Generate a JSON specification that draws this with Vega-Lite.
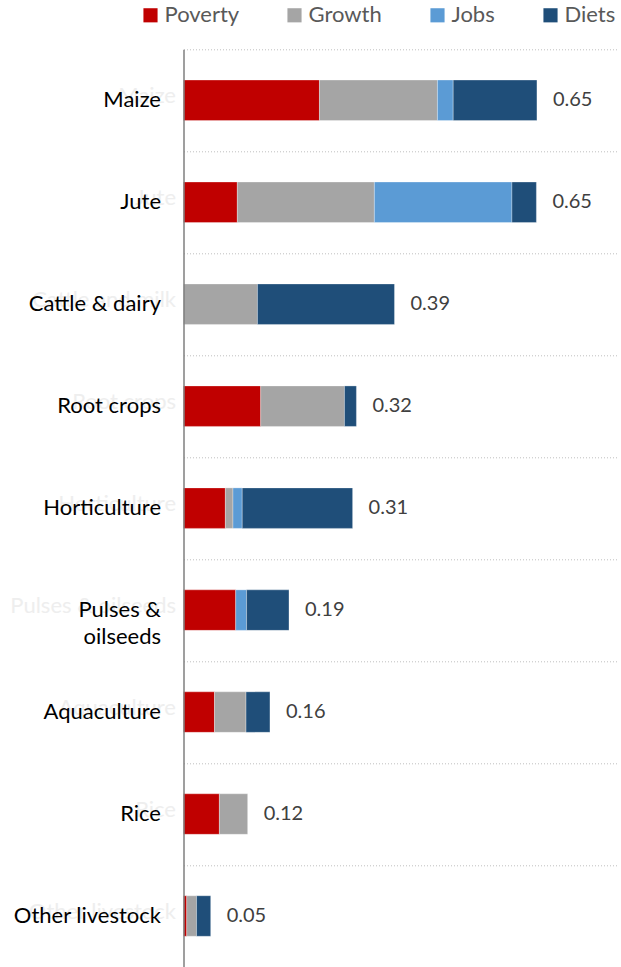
{
  "$schema": "https://vega.github.io/schema/vega-lite/v6.json",
  "width": 435,
  "height": 917.7,
  "autosize": {"type": "none"},
  "padding": {"left": 183.5, "top": 49.3, "right": 0, "bottom": 0},
  "background": "white",
  "config": {"view": {"stroke": null}, "font": "Lato"},
  "data": {
    "values": [
      {"sector": "Maize", "measure": "Poverty", "value": 0.250},
      {"sector": "Maize", "measure": "Growth", "value": 0.217},
      {"sector": "Maize", "measure": "Jobs", "value": 0.029},
      {"sector": "Maize", "measure": "Diets", "value": 0.154},
      {"sector": "Jute", "measure": "Poverty", "value": 0.099},
      {"sector": "Jute", "measure": "Growth", "value": 0.252},
      {"sector": "Jute", "measure": "Jobs", "value": 0.253},
      {"sector": "Jute", "measure": "Diets", "value": 0.045},
      {"sector": "Cattle & dairy", "measure": "Growth", "value": 0.136},
      {"sector": "Cattle & dairy", "measure": "Diets", "value": 0.252},
      {"sector": "Root crops", "measure": "Poverty", "value": 0.142},
      {"sector": "Root crops", "measure": "Growth", "value": 0.154},
      {"sector": "Root crops", "measure": "Diets", "value": 0.022},
      {"sector": "Horticulture", "measure": "Poverty", "value": 0.077},
      {"sector": "Horticulture", "measure": "Growth", "value": 0.014},
      {"sector": "Horticulture", "measure": "Jobs", "value": 0.017},
      {"sector": "Horticulture", "measure": "Diets", "value": 0.203},
      {"sector": "Pulses & oilseeds", "measure": "Poverty", "value": 0.096},
      {"sector": "Pulses & oilseeds", "measure": "Jobs", "value": 0.020},
      {"sector": "Pulses & oilseeds", "measure": "Diets", "value": 0.078},
      {"sector": "Aquaculture", "measure": "Poverty", "value": 0.057},
      {"sector": "Aquaculture", "measure": "Growth", "value": 0.058},
      {"sector": "Aquaculture", "measure": "Diets", "value": 0.044},
      {"sector": "Rice", "measure": "Poverty", "value": 0.066},
      {"sector": "Rice", "measure": "Growth", "value": 0.052},
      {"sector": "Other livestock", "measure": "Poverty", "value": 0.006},
      {"sector": "Other livestock", "measure": "Growth", "value": 0.018},
      {"sector": "Other livestock", "measure": "Diets", "value": 0.026}
    ]
  },
  "layer": [
    {
      "transform": [
        {"calculate": "indexof(['Poverty', 'Growth', 'Jobs', 'Diets'], datum.measure)", "as": "stack_rank"}
      ],
      "mark": {"type": "bar", "size": 40.5, "stroke": "white", "strokeWidth": 0.6, "strokeOpacity": 0.5},
      "encoding": {
        "y": {
          "field": "sector",
          "type": "nominal",
          "scale": {
            "domain": ["Maize", "Jute", "Cattle & dairy", "Root crops", "Horticulture", "Pulses & oilseeds", "Aquaculture", "Rice", "Other livestock"],
            "paddingInner": 0,
            "paddingOuter": 0
          },
          "axis": {
            "orient": "left",
            "title": null,
            "domain": false,
            "ticks": false,
            "labelFontSize": 22,
            "labelColor": "#eeeeee",
            "labelPadding": 8,
            "labelOffset": -5,
            "labelLimit": 400,
            "labelExpr": "datum.value == 'Cattle & dairy' ? 'Cattle and milk' : datum.value",
            "grid": true,
            "gridDash": [1, 2],
            "gridColor": "#bfbfbf",
            "gridWidth": 1,
            "tickBand": "extent",
            "zindex": 0
          }
        },
        "x": {
          "field": "value",
          "type": "quantitative",
          "stack": "zero",
          "scale": {"domain": [0, 0.8], "nice": false},
          "axis": null
        },
        "order": {"field": "stack_rank", "type": "quantitative", "sort": "ascending"},
        "color": {
          "field": "measure",
          "type": "nominal",
          "scale": {
            "domain": ["Poverty", "Growth", "Jobs", "Diets"],
            "range": ["#c00000", "#a5a5a5", "#5b9bd5", "#1f4e79"]
          },
          "legend": {
            "orient": "none",
            "legendX": -44,
            "legendY": -45,
            "direction": "horizontal",
            "gridAlign": "none",
            "title": null,
            "symbolType": "square",
            "symbolSize": 200,
            "symbolStrokeWidth": 0,
            "symbolOpacity": 1,
            "labelFontSize": 22,
            "labelColor": "#595959",
            "labelOffset": 3,
            "columnPadding": 44,
            "padding": 0
          }
        }
      }
    },
    {
      "transform": [
        {"aggregate": [{"op": "sum", "field": "value", "as": "total"}], "groupby": ["sector"]}
      ],
      "mark": {"type": "text", "align": "left", "baseline": "middle", "dx": 16, "fontSize": 20, "color": "#404040"},
      "encoding": {
        "y": {
          "field": "sector",
          "type": "nominal",
          "axis": {
            "orient": "left",
            "title": null,
            "ticks": false,
            "grid": false,
            "domainColor": "#7f7f7f",
            "domainWidth": 1.5,
            "labelFontSize": 22,
            "labelColor": "#000000",
            "labelPadding": 23,
            "labelLimit": 400,
            "labelLineHeight": 27,
            "labelExpr": "datum.value == 'Pulses & oilseeds' ? ['Pulses &', 'oilseeds'] : datum.value",
            "zindex": 1
          }
        },
        "x": {"field": "total", "type": "quantitative", "axis": null},
        "text": {"field": "total", "type": "quantitative", "format": ".2f"}
      }
    }
  ],
  "resolve": {"axis": {"y": "independent"}}
}
